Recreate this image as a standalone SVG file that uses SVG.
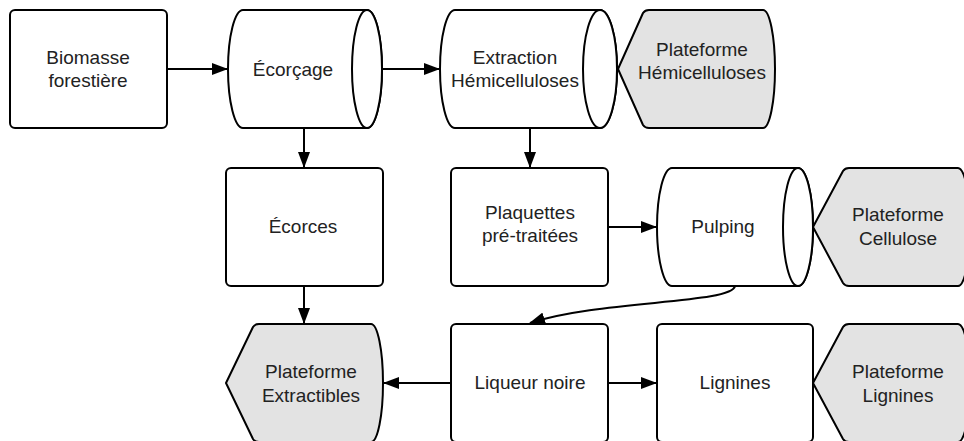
<svg xmlns="http://www.w3.org/2000/svg" width="964" height="441" viewBox="0 0 964 441">
<style>
.box{fill:#fff;stroke:#000;stroke-width:2}
.plat{fill:#e3e3e3;stroke:#000;stroke-width:2;stroke-linejoin:round}
.cyl{fill:#fff;stroke:#000;stroke-width:2}
.t{font-family:"Liberation Sans",Arial,sans-serif;font-size:19px;fill:#222;text-anchor:middle}
.c{fill:none;stroke:#000;stroke-width:2}
</style>
<defs>
<marker id="ah" markerUnits="userSpaceOnUse" markerWidth="16" markerHeight="12" refX="15" refY="6" orient="auto">
<path d="M0,0 L16,6 L0,12 Z" fill="#000"/>
</marker>
</defs>
<rect width="964" height="441" fill="#fff"/>
<g id="connectors">
<path class="c" d="M167,69 L227,69" marker-end="url(#ah)"/>
<path class="c" d="M382,69 L439,69" marker-end="url(#ah)"/>
<path class="c" d="M304,128 L304,167" marker-end="url(#ah)"/>
<path class="c" d="M530,128 L530,167" marker-end="url(#ah)"/>
<path class="c" d="M608,227 L656,227" marker-end="url(#ah)"/>
<path class="c" d="M304,286 L304,323" marker-end="url(#ah)"/>
<path class="c" d="M735,286 C732,304 600,300 530,323" marker-end="url(#ah)"/>
<path class="c" d="M451,383 L384,383" marker-end="url(#ah)"/>
<path class="c" d="M608,383 L656,383" marker-end="url(#ah)"/>
</g>
<g id="biomasse">
<rect class="box" x="10" y="10" width="157" height="118" rx="5"/>
<text class="t" x="88" y="64">Biomasse</text>
<text class="t" x="88" y="87">forestière</text>
</g>
<g id="ecorcage">
<path class="cyl" d="M243,10 L367,10 A15,59 0 0 1 367,128 L243,128 A15,59 0 0 1 243,10 Z"/>
<ellipse class="cyl" cx="367" cy="69" rx="15" ry="59"/>
<text class="t" x="293" y="76">Écorçage</text>
</g>
<g id="extraction">
<path class="cyl" d="M455,10 L600,10 A17,59 0 0 1 600,128 L455,128 A15,59 0 0 1 455,10 Z"/>
<ellipse class="cyl" cx="600" cy="69" rx="17" ry="59"/>
<text class="t" x="515" y="64">Extraction</text>
<text class="t" x="515" y="87">Hémicelluloses</text>
</g>
<g id="plat-hemi">
<path class="plat" d="M618,69 L643,13 Q645,10 649,10 L763,10 A12,59 0 0 1 763,128 L649,128 Q645,128 643,125 Z"/>
<text class="t" x="702" y="56">Plateforme</text>
<text class="t" x="702" y="79">Hémicelluloses</text>
</g>
<g id="ecorces">
<rect class="box" x="226" y="168" width="157" height="118" rx="5"/>
<text class="t" x="303" y="233">Écorces</text>
</g>
<g id="plaquettes">
<rect class="box" x="451" y="168" width="157" height="118" rx="5"/>
<text class="t" x="530" y="219">Plaquettes</text>
<text class="t" x="530" y="242">pré-traitées</text>
</g>
<g id="pulping">
<path class="cyl" d="M672,168 L798,168 A15,59 0 0 1 798,286 L672,286 A15,59 0 0 1 672,168 Z"/>
<ellipse class="cyl" cx="798" cy="227" rx="15" ry="59"/>
<text class="t" x="723" y="233">Pulping</text>
</g>
<g id="plat-cellulose">
<path class="plat" d="M813,227 L843,171 Q845,168 849,168 L958,168 A12,59 0 0 1 958,286 L849,286 Q845,286 843,283 Z"/>
<text class="t" x="898" y="221">Plateforme</text>
<text class="t" x="898" y="245">Cellulose</text>
</g>
<g id="plat-extractibles">
<path class="plat" d="M226,383 L253,327 Q255,324 259,324 L371,324 A12,59 0 0 1 371,442 L259,442 Q255,442 253,439 Z"/>
<text class="t" x="311" y="378">Plateforme</text>
<text class="t" x="311" y="402">Extractibles</text>
</g>
<g id="liqueur">
<rect class="box" x="451" y="324" width="157" height="118" rx="5"/>
<text class="t" x="530" y="389">Liqueur noire</text>
</g>
<g id="lignines">
<rect class="box" x="657" y="324" width="156" height="118" rx="5"/>
<text class="t" x="735" y="389">Lignines</text>
</g>
<g id="plat-lignines">
<path class="plat" d="M813,383 L843,327 Q845,324 849,324 L958,324 A12,59 0 0 1 958,442 L849,442 Q845,442 843,439 Z"/>
<text class="t" x="898" y="378">Plateforme</text>
<text class="t" x="898" y="402">Lignines</text>
</g>
</svg>
